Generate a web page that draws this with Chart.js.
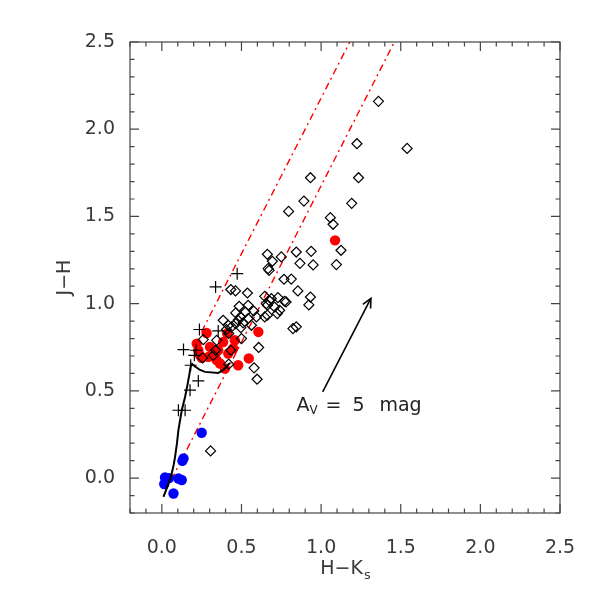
<!DOCTYPE html>
<html>
<head>
<meta charset="utf-8">
<script src="https://cdn.jsdelivr.net/npm/chart.js@4.4.1/dist/chart.umd.min.js"></script>
<style>
  body { margin: 0; background: #fff; }
</style>
</head>
<body>
<canvas id="ccd" width="599" height="599"></canvas>
<script>
// axis ticks
const xTicks = [0.0, 0.5, 1.0, 1.5, 2.0, 2.5];
const yTicks = [0.0, 0.5, 1.0, 1.5, 2.0, 2.5];

// [H-Ks, J-H]
const diamonds = [
    [1.36, 2.16], [1.54, 1.89], [1.225, 1.917], [0.933, 1.722], [1.235, 1.722],
    [0.892, 1.588], [0.796, 1.529], [1.192, 1.575], [1.058, 1.493], [1.075, 1.455],
    [1.125, 1.306], [0.844, 1.296], [0.9375, 1.30], [0.867, 1.231], [0.95, 1.222],
    [1.096, 1.224], [0.75, 1.268], [0.767, 1.14], [0.8125, 1.141], [0.854, 1.073],
    [0.933, 1.038], [0.923, 0.993], [0.77, 1.014], [0.74, 0.962], [0.844, 0.867],
    [0.729, 1.035], [0.725, 0.943], [0.6625, 1.283], [0.694, 1.243], [0.667, 1.201],
    [0.673, 1.191], [0.433, 1.081], [0.4625, 1.073], [0.5375, 1.061], [0.646, 1.042],
    [0.673, 1.019], [0.4855, 0.985], [0.6625, 0.991], [0.525, 0.952], [0.577, 0.958],
    [0.6625, 0.934], [0.646, 0.924], [0.464, 0.947], [0.494, 0.924], [0.542, 0.915],
    [0.479, 0.905], [0.51, 0.89], [0.464, 0.886], [0.4375, 0.867], [0.496, 0.863],
    [0.406, 0.852], [0.42, 0.829], [0.5, 0.80], [0.344, 0.79], [0.26, 0.794],
    [0.608, 0.749], [0.433, 0.733], [0.3375, 0.733], [0.323, 0.704], [0.256, 0.689],
    [0.579, 0.632], [0.598, 0.567], [0.42, 0.653], [0.306, 0.156], [0.542, 0.991],
    [0.594, 0.924], [0.5625, 0.876], [0.6875, 1.029], [0.708, 0.981], [0.656, 1.0],
    [0.385, 0.905], [0.417, 0.876], [0.823, 0.857], [0.78, 1.01]
];

const crosses = [
    [0.473, 1.172], [0.3375, 1.096], [0.236, 0.852], [0.354, 0.844], [0.136, 0.737],
    [0.204, 0.704], [0.215, 0.733], [0.181, 0.647], [0.229, 0.557], [0.177, 0.504],
    [0.104, 0.389], [0.146, 0.389]
];

const redStars = [
    [1.0875, 1.363], [0.281, 0.832], [0.41, 0.83], [0.606, 0.838], [0.219, 0.771],
    [0.229, 0.733], [0.302, 0.752], [0.354, 0.733], [0.292, 0.695], [0.344, 0.676],
    [0.365, 0.657], [0.448, 0.743], [0.458, 0.79], [0.546, 0.686], [0.479, 0.647],
    [0.396, 0.628], [0.25, 0.69], [0.385, 0.78], [0.417, 0.714], [0.333, 0.70],
    [0.24, 0.704]
];

const blueStars = [
    [0.25, 0.26], [0.136, 0.113], [0.129, 0.099], [0.02, 0.004], [0.015, -0.034],
    [0.104, -0.002], [0.125, -0.011], [0.073, -0.088], [0.045, 0.0]
];

// intrinsic colours (dwarfs + giants)
const locus = [
    [0.01, -0.107], [0.03, -0.06], [0.042, -0.03], [0.055, 0.0], [0.067, 0.046],
    [0.075, 0.08], [0.083, 0.122], [0.095, 0.2], [0.104, 0.275], [0.125, 0.389],
    [0.146, 0.466], [0.16, 0.53], [0.172, 0.59], [0.18, 0.635], [0.19, 0.655],
    [0.208, 0.64], [0.24, 0.62], [0.271, 0.609], [0.354, 0.603], [0.385, 0.619],
    [0.427, 0.66]
];

// reddening band
const redLineUpper = [[0.25, 0.84], [1.18, 2.5]];
const redLineLower = [[0.06, -0.01], [1.46, 2.5]];

// Av = 5 mag vector
const avVector = [[1.01, 0.494], [1.3125, 1.03]];
const avLabelPos = [0.845, 0.386];

const toXY = arr => arr.map(p => ({ x: p[0], y: p[1] }));

const FONT = "'DejaVu Sans', sans-serif";
const INK = '#3a3a3a';

// frame with inward ticks on all four sides
const framePlugin = {
    id: 'frame',
    afterDraw(chart) {
        const { ctx, chartArea: a, scales } = chart;
        ctx.save();
        ctx.strokeStyle = '#444';
        ctx.lineWidth = 1.2;
        ctx.strokeRect(a.left, a.top, a.right - a.left, a.bottom - a.top);
        ctx.beginPath();
        for (let i = -2; i <= 25; i++) {
            const v = i / 10;
            const len = (i % 5 === 0) ? 9 : 4.5;
            const px = scales.x.getPixelForValue(v);
            const py = scales.y.getPixelForValue(v);
            ctx.moveTo(px, a.bottom); ctx.lineTo(px, a.bottom - len);
            ctx.moveTo(px, a.top); ctx.lineTo(px, a.top + len);
            ctx.moveTo(a.left, py); ctx.lineTo(a.left + len, py);
            ctx.moveTo(a.right, py); ctx.lineTo(a.right - len, py);
        }
        ctx.stroke();
        ctx.restore();
    }
};

// titles with subscripts, arrow head and the Av label
const textPlugin = {
    id: 'texts',
    afterDraw(chart) {
        const { ctx, chartArea: a, scales } = chart;
        ctx.save();
        ctx.fillStyle = INK;
        ctx.textBaseline = 'alphabetic';
        ctx.textAlign = 'left';

        // x title H-Ks
        const main = 'H\u2212K';
        ctx.font = '19px ' + FONT;
        const w1 = ctx.measureText(main).width;
        ctx.font = '13px ' + FONT;
        const w2 = ctx.measureText('s').width;
        const x0 = (a.left + a.right) / 2 - (w1 + w2) / 2;
        ctx.font = '19px ' + FONT;
        ctx.fillText(main, x0, 574);
        ctx.font = '13px ' + FONT;
        ctx.fillText('s', x0 + w1 + 1, 579);

        // y title J-H
        ctx.save();
        ctx.translate(70, (a.top + a.bottom) / 2);
        ctx.rotate(-Math.PI / 2);
        ctx.font = '19px ' + FONT;
        ctx.textAlign = 'center';
        ctx.fillText('J\u2212H', 0, 0);
        ctx.restore();

        // arrow head
        const xs = scales.x, ys = scales.y;
        const tx = xs.getPixelForValue(avVector[0][0]), ty = ys.getPixelForValue(avVector[0][1]);
        const hx = xs.getPixelForValue(avVector[1][0]), hy = ys.getPixelForValue(avVector[1][1]);
        const ang = Math.atan2(hy - ty, hx - tx);
        ctx.strokeStyle = '#000';
        ctx.lineWidth = 1.6;
        ctx.beginPath();
        ctx.moveTo(hx - 10 * Math.cos(ang - 0.45), hy - 10 * Math.sin(ang - 0.45));
        ctx.lineTo(hx, hy);
        ctx.lineTo(hx - 10 * Math.cos(ang + 0.45), hy - 10 * Math.sin(ang + 0.45));
        ctx.stroke();

        // Av = 5 mag
        const lx = xs.getPixelForValue(avLabelPos[0]);
        const ly = ys.getPixelForValue(avLabelPos[1]);
        ctx.fillStyle = '#222';
        ctx.font = '19px ' + FONT;
        ctx.fillText('A', lx, ly);
        ctx.font = '12px ' + FONT;
        ctx.fillText('V', lx + 13, ly + 3);
        ctx.font = '19px ' + FONT;
        ctx.fillText('=', lx + 29, ly);
        ctx.fillText('5', lx + 56, ly);
        ctx.fillText('mag', lx + 83, ly);
        ctx.restore();
    }
};

const ctx = document.getElementById('ccd').getContext('2d');
const chart = new Chart(ctx, {
    type: 'scatter',
    data: {
        datasets: [
            {
                label: 'crosses',
                data: toXY(crosses),
                pointStyle: 'cross',
                pointRadius: 6,
                borderColor: '#000',
                borderWidth: 1.2,
                order: 0
            },
            {
                label: 'diamonds',
                data: toXY(diamonds),
                pointStyle: 'rectRot',
                pointRadius: 5,
                borderColor: '#000',
                backgroundColor: 'rgba(0,0,0,0)',
                borderWidth: 1.2,
                order: 1
            },
            {
                label: 'locus',
                data: toXY(locus),
                showLine: true,
                pointRadius: 0,
                borderColor: '#000',
                borderWidth: 2,
                order: 2
            },
            {
                label: 'red',
                data: toXY(redStars),
                pointStyle: 'circle',
                pointRadius: 5.2,
                backgroundColor: '#ff0000',
                borderColor: '#ff0000',
                borderWidth: 0,
                order: 3
            },
            {
                label: 'blue',
                data: toXY(blueStars),
                pointStyle: 'circle',
                pointRadius: 5.2,
                backgroundColor: '#0000ff',
                borderColor: '#0000ff',
                borderWidth: 0,
                order: 3
            },
            {
                label: 'Av',
                data: toXY(avVector),
                showLine: true,
                pointRadius: 0,
                borderColor: '#000',
                borderWidth: 1.6,
                order: 4
            },
            {
                label: 'band upper',
                data: toXY(redLineUpper),
                showLine: true,
                pointRadius: 0,
                borderColor: '#ff0000',
                borderWidth: 1.4,
                borderDash: [7, 4, 2, 4],
                order: 5
            },
            {
                label: 'band lower',
                data: toXY(redLineLower),
                showLine: true,
                pointRadius: 0,
                borderColor: '#ff0000',
                borderWidth: 1.4,
                borderDash: [7, 4, 2, 4],
                order: 5
            }
        ]
    },
    options: {
        responsive: false,
        animation: false,
        devicePixelRatio: 1,
        layout: {
            padding: { left: 0, right: 39, top: 42, bottom: 0 }
        },
        plugins: {
            legend: { display: false },
            tooltip: { enabled: false }
        },
        scales: {
            x: {
                type: 'linear',
                min: -0.2,
                max: 2.5,
                afterBuildTicks: s => { s.ticks = xTicks.map(v => ({ value: v })); },
                afterFit: s => { s.height = 86; },
                grid: { display: false },
                border: { display: false },
                ticks: {
                    callback: v => v.toFixed(1),
                    font: { family: FONT, size: 19 },
                    color: INK,
                    padding: 16,
                    maxRotation: 0,
                    autoSkip: false
                }
            },
            y: {
                type: 'linear',
                min: -0.2,
                max: 2.5,
                afterBuildTicks: s => { s.ticks = yTicks.map(v => ({ value: v })); },
                afterFit: s => { s.width = 130; },
                grid: { display: false },
                border: { display: false },
                ticks: {
                    callback: v => v.toFixed(1),
                    font: { family: FONT, size: 19 },
                    color: INK,
                    padding: 7,
                    autoSkip: false
                }
            }
        }
    },
    plugins: [framePlugin, textPlugin]
});
</script>
</body>
</html>
